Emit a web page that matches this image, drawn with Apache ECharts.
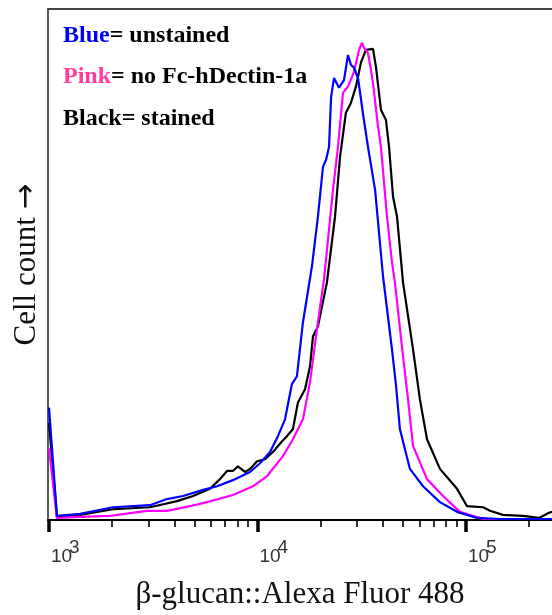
<!DOCTYPE html>
<html><head><meta charset="utf-8">
<script src="https://cdn.jsdelivr.net/npm/echarts@6/dist/echarts.min.js"></script>
<style>html,body{margin:0;padding:0;background:#fff}#c{width:552px;height:615px}</style>
</head><body><div id="c"></div>
<script>
// x values are log10(fluorescence intensity); y values are relative cell count
const majorExponents = [3, 4, 5];
const majorTickBase = '10';
const minorMultipliers = [2, 3, 4, 5, 6, 7, 8, 9];
const legendLines = [
  { key: 'Blue', rest: '= unstained', color: '#0000ff' },
  { key: 'Pink', rest: '= no Fc-hDectin-1a', color: '#ff3d9e' },
  { key: 'Black', rest: '= stained', color: '#000000' }
];
const blueX = [3.000, 3.038, 3.149, 3.307, 3.484, 3.566, 3.643, 3.739, 3.806, 3.882, 3.964, 4.012, 4.060, 4.098, 4.132, 4.165, 4.189, 4.218, 4.261, 4.290, 4.314, 4.329, 4.343, 4.353, 4.367, 4.391, 4.415, 4.434, 4.448, 4.463, 4.482, 4.506, 4.530, 4.564, 4.602, 4.645, 4.664, 4.683, 4.731, 4.794, 4.875, 4.957, 5.053, 5.163, 5.427];
const blueY = [22, 0.8, 1.2, 2.5, 2.9, 4.1, 4.7, 5.9, 6.6, 7.8, 9.4, 11.1, 13.3, 16.4, 19.7, 26.6, 28.1, 38.7, 49.6, 59.4, 69.1, 70.5, 73.0, 82.8, 86.5, 84.6, 86.1, 91.0, 89.1, 88.5, 86.5, 79.5, 73.0, 64.6, 47.7, 33.4, 26.5, 17.8, 10.0, 6.6, 3.5, 1.6, 0.4, 0.2, 0.2];
const pinkX = [3.000, 3.038, 3.149, 3.293, 3.470, 3.566, 3.676, 3.758, 3.882, 3.978, 4.046, 4.122, 4.170, 4.218, 4.252, 4.285, 4.319, 4.362, 4.386, 4.410, 4.434, 4.463, 4.487, 4.501, 4.511, 4.530, 4.544, 4.554, 4.578, 4.592, 4.621, 4.645, 4.659, 4.698, 4.722, 4.746, 4.813, 4.890, 4.971, 5.082, 5.427];
const pinkY = [14, 0.4, 0.6, 0.8, 1.8, 1.8, 2.7, 3.5, 4.9, 6.6, 8.6, 12.5, 15.8, 19.7, 27.0, 37.3, 47.1, 64.6, 73.0, 83.6, 84.8, 87.7, 92.0, 93.4, 92.4, 91.4, 88.1, 85.5, 77.0, 73.0, 59.4, 50.4, 46.5, 32.0, 23.6, 14.5, 8.0, 4.7, 1.6, 0.2, 0.2];
const blackX = [3.000, 3.038, 3.149, 3.307, 3.484, 3.614, 3.691, 3.772, 3.820, 3.854, 3.882, 3.906, 3.940, 3.964, 3.998, 4.036, 4.074, 4.118, 4.141, 4.170, 4.194, 4.228, 4.252, 4.266, 4.290, 4.333, 4.372, 4.396, 4.424, 4.448, 4.472, 4.496, 4.520, 4.554, 4.568, 4.592, 4.616, 4.631, 4.650, 4.669, 4.698, 4.746, 4.779, 4.813, 4.875, 4.957, 5.005, 5.082, 5.115, 5.177, 5.273, 5.350, 5.398, 5.427];
const blackY = [19, 0.6, 1.0, 2.1, 2.5, 3.7, 4.7, 6.1, 8.0, 9.6, 9.6, 10.5, 9.4, 10.0, 11.5, 11.9, 13.3, 15.4, 16.4, 17.8, 23.0, 25.6, 30.1, 35.9, 37.9, 46.5, 59.4, 71.1, 79.7, 81.6, 84.8, 89.5, 92.0, 92.2, 88.7, 80.3, 78.3, 73.0, 63.3, 59.4, 46.5, 33.4, 23.6, 15.8, 10.0, 6.1, 2.7, 2.5, 1.8, 1.0, 0.8, 0.4, 1.4, 1.8];

const zip = (xs, ys) => xs.map((x, i) => [x, ys[i]]);
const minorTicks = [];
[3, 4, 5].forEach(d => minorMultipliers.forEach(m => {
  const v = d + Math.log10(m);
  if (v < 5.41) minorTicks.push(v);
}));

const X_MIN = 2.9952, X_MAX = 5.4125;
const serif = '"Liberation Serif", "Times New Roman", "DejaVu Serif", serif';
const tickFont = '"Liberation Sans Narrow", "Liberation Sans", Arial, sans-serif';
const baseX = { type: 'value', min: X_MIN, max: X_MAX, splitLine: { show: false } };

const chart = echarts.init(document.getElementById('c'), null, { renderer: 'canvas' });
chart.setOption({
  animation: false,
  backgroundColor: '#ffffff',
  grid: { left: 48, right: 0, top: 9, bottom: 94, show: false },
  xAxis: [
    Object.assign({}, baseX, {
      position: 'bottom',
      name: 'β-glucan::Alexa Fluor 488', nameLocation: 'middle', nameGap: 59,
      nameTextStyle: { fontFamily: serif, fontSize: 31, color: '#111' },
      axisLine: { show: true, onZero: false, lineStyle: { color: '#000', width: 2 } },
      axisTick: { show: true, inside: false, length: 12, lineStyle: { color: '#000', width: 3.5 }, customValues: majorExponents },
      axisLabel: {
        show: true, customValues: majorExponents, margin: 27, align: 'left', verticalAlign: 'top',
        formatter: () => majorTickBase, padding: [0, 0, 0, 2],
        fontFamily: tickFont, fontSize: 19, color: '#333'
      }
    }),
    Object.assign({}, baseX, {
      position: 'bottom',
      axisLine: { show: false, onZero: false },
      axisTick: { show: true, inside: false, length: 7, lineStyle: { color: '#000', width: 1.6 }, customValues: minorTicks },
      axisLabel: {
        show: true, customValues: majorExponents, margin: 18, align: 'left', verticalAlign: 'top',
        formatter: v => String(v), padding: [0, 0, 0, 20],
        fontFamily: tickFont, fontSize: 19, color: '#333'
      }
    }),
    Object.assign({}, baseX, {
      position: 'top',
      axisLine: { show: true, onZero: false, lineStyle: { color: '#444', width: 2 } },
      axisTick: { show: false }, axisLabel: { show: false }
    })
  ],
  yAxis: {
    type: 'value', min: 0, max: 100,
    name: '{t|Cell count }{a|→}', nameLocation: 'middle', nameGap: 6, nameRotate: 90,
    nameTextStyle: {
      fontFamily: serif, fontSize: 31, color: '#111',
      rich: {
        t: { fontFamily: serif, fontSize: 31, color: '#111' },
        a: { fontFamily: '"DejaVu Sans", sans-serif', fontSize: 31, color: '#111' }
      }
    },
    axisLine: { show: true, onZero: false, lineStyle: { color: '#5a5a5a', width: 2 } },
    axisTick: { show: false }, axisLabel: { show: false }, splitLine: { show: false }
  },
  graphic: legendLines.map((l, i) => ({
    type: 'text', left: 63, top: [24, 65, 107][i], silent: true,
    style: {
      text: '{k|' + l.key + '}{r|' + l.rest + '}',
      rich: {
        k: { fill: l.color, font: 'bold 24px ' + serif },
        r: { fill: '#000', font: 'bold 24px ' + serif }
      }
    }
  })),
  series: [
    { type: 'line', name: 'Black', data: zip(blackX, blackY), showSymbol: false, lineStyle: { color: '#000000', width: 2.2 }, z: 2 },
    { type: 'line', name: 'Pink', data: zip(pinkX, pinkY), showSymbol: false, lineStyle: { color: '#ff00ff', width: 2.2 }, z: 3 },
    { type: 'line', name: 'Blue', data: zip(blueX, blueY), showSymbol: false, lineStyle: { color: '#0000ff', width: 2.2 }, z: 4 }
  ]
});
</script>
</body></html>
